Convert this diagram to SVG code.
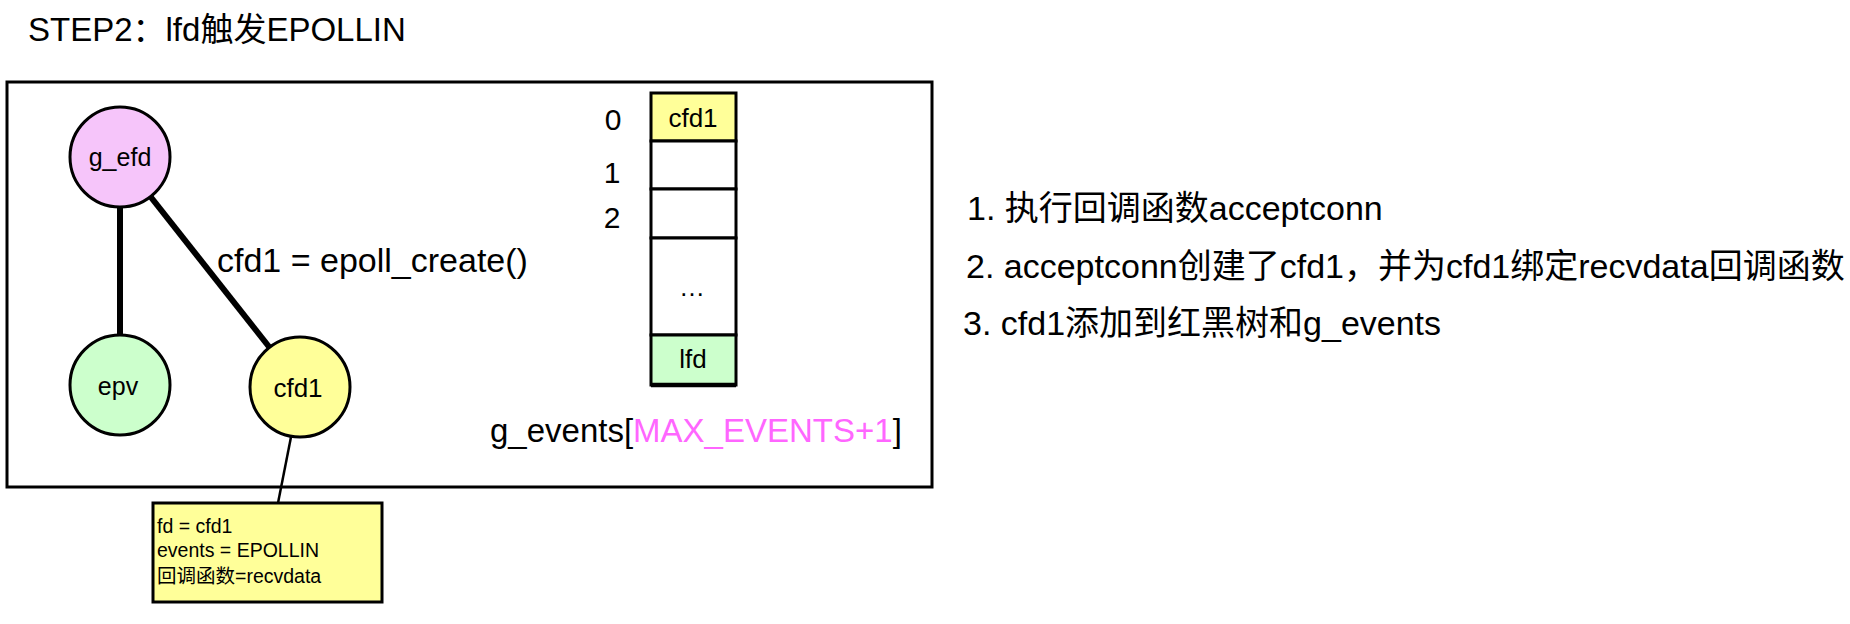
<svg xmlns="http://www.w3.org/2000/svg" width="1850" height="624" viewBox="0 0 1850 624">
<style>
text{font-family:"Liberation Sans","Noto Sans CJK SC",sans-serif;fill:#000}
.node{stroke:#000;stroke-width:3}
.cell{stroke:#000;stroke-width:3}
.mid{text-anchor:middle}
.edge{stroke:#000;fill:none}
</style>
<rect width="1850" height="624" fill="#fff"/>
<g id="title"><text x="28" y="41" font-size="33">STEP2：lfd触发EPOLLIN</text></g>
<g id="frame"><rect x="7" y="82" width="925" height="405" fill="none" stroke="#000" stroke-width="3"/></g>
<g id="connectors">
<line class="edge" x1="120" y1="207" x2="120" y2="335" stroke-width="6"/>
<line class="edge" x1="150" y1="196" x2="270" y2="348" stroke-width="6"/>
<line class="edge" x1="291" y1="437" x2="278" y2="503" stroke-width="2.5"/>
<text x="217" y="272" font-size="34">cfd1 = epoll_create()</text>
</g>
<g id="g_efd"><circle class="node" cx="120" cy="157" r="50" fill="#F6C5FA"/><text class="mid" x="120" y="166" font-size="25">g_efd</text></g>
<g id="epv"><circle class="node" cx="120" cy="385" r="50" fill="#CCFFCC"/><text class="mid" x="118" y="395" font-size="25">epv</text></g>
<g id="cfd1"><circle class="node" cx="300" cy="387" r="50" fill="#FFFF99"/><text class="mid" x="298" y="397" font-size="26">cfd1</text></g>
<g id="g_events">
<rect class="cell" x="651" y="93" width="85" height="48" fill="#FFFF99"/>
<rect class="cell" x="651" y="141" width="85" height="48" fill="#fff"/>
<rect class="cell" x="651" y="189" width="85" height="49" fill="#fff"/>
<rect class="cell" x="651" y="238" width="85" height="97" fill="#fff"/>
<rect class="cell" x="651" y="335" width="85" height="50" fill="#CCFFCC"/>
<line x1="651" y1="385" x2="736" y2="385" stroke="#000" stroke-width="4.5"/>
<text class="mid" x="693" y="127" font-size="26">cfd1</text>
<text class="mid" x="692" y="296" font-size="26">…</text>
<text class="mid" x="693" y="368" font-size="26">lfd</text>
<text class="mid" x="613" y="130" font-size="30">0</text>
<text class="mid" x="612" y="183" font-size="30">1</text>
<text class="mid" x="612" y="228" font-size="30">2</text>
<text x="490" y="442" font-size="33">g_events[<tspan fill="#FF66FF">MAX_EVENTS+1</tspan>]</text>
</g>
<g id="info"><rect x="153" y="503" width="229" height="99" fill="#FFFF99" stroke="#000" stroke-width="3"/>
<text x="157" y="533" font-size="19.5">fd = cfd1</text>
<text x="157" y="557" font-size="19.5">events = EPOLLIN</text>
<text x="157" y="583" font-size="19.5">回调函数=recvdata</text>
</g>
<g id="notes">
<text x="967" y="220" font-size="34">1. 执行回调函数acceptconn</text>
<text x="966" y="278" font-size="34">2. acceptconn创建了cfd1，并为cfd1绑定recvdata回调函数</text>
<text x="963" y="335" font-size="34">3. cfd1添加到红黑树和g_events</text>
</g>
</svg>
